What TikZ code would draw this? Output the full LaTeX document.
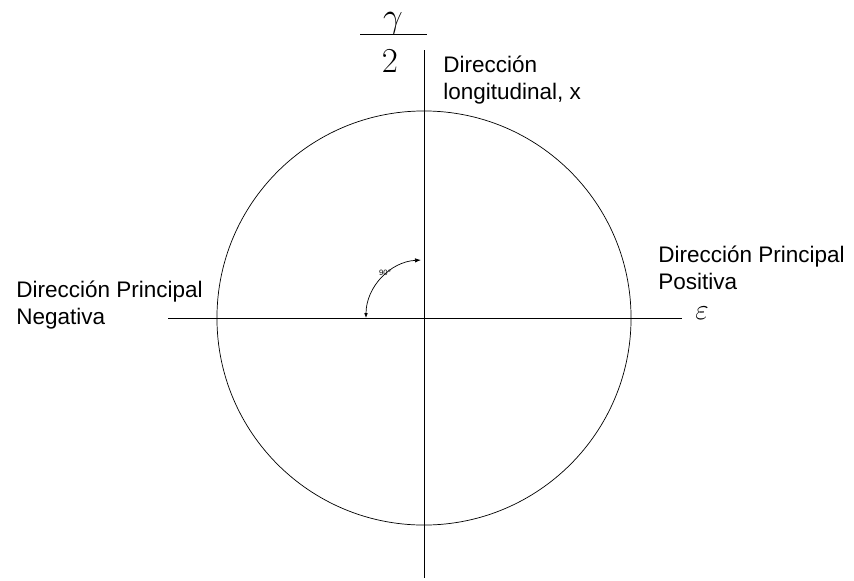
\documentclass[tikz,border=0pt]{standalone}
\usepackage[no-math]{fontspec}
\setmainfont{Liberation Sans}
\usepackage{amsmath}
\usepackage{tikz}
\usetikzlibrary{arrows.meta,positioning,calc}

\begin{document}
\begin{tikzpicture}[
    x=0.025cm, y=-0.025cm,
    axisline/.style={line width=0.6pt},
    label/.style={inner sep=0pt, anchor=base west, align=left, font=\fontsize{16}{19.5}\selectfont},
    mathlabel/.style={inner sep=0pt, font=\fontsize{23}{28}\selectfont},
    angarrow/.style={{Latex[length=1.2mm,width=0.9mm]}-{Latex[length=1.5mm,width=1.1mm]}, line width=0.5pt}
]
\useasboundingbox (0,0) rectangle (854,580);
% axes
\coordinate (origin) at (424,318);
\coordinate (eleft) at (168,318);
\coordinate (eright) at (682,318);
\coordinate (gtop) at (424,50);
\coordinate (gbottom) at (424,578);
\draw[axisline] (eleft) -- (eright);
\draw[axisline] (gtop) -- (gbottom);
% Mohr circle
\draw[line width=0.5pt] (origin) circle[radius=5.175cm];
% angle
\coordinate (angstart) at ($(origin)+(-58,0)$);
\draw[angarrow] (angstart) arc[start angle=180, end angle=93, radius=1.45cm];
\node[inner sep=0pt, font=\fontsize{5.5}{6}\selectfont] (angle) at (385,273) {90°};
% axis labels
\node[mathlabel, anchor=south] (gnum) at (393,34.5) {$\gamma$};
\node[mathlabel, anchor=north] (gden) at (390,50) {$2$};
\coordinate (barleft) at (360,34);
\coordinate (barright) at (427,34);
\draw[axisline] (barleft) -- (barright);
\node[inner sep=0pt, font=\fontsize{21}{25}\selectfont] (eps) at (702,313) {$\varepsilon$};
% directions
\node[label] (longit) at (443,99.5) {Dirección\\longitudinal, x};
\node[label] (positiva) at (658,289.5) {Dirección Principal\\Positiva};
\node[label] (negativa) at (16,324.5) {Dirección Principal\\Negativa};
\end{tikzpicture}
\end{document}
